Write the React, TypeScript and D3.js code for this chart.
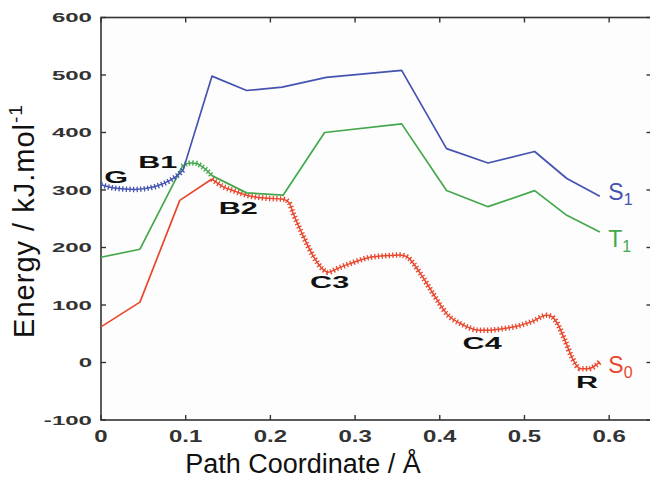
import React from 'react';
import * as d3 from 'd3';

// axis ticks
const xTicks = [0, 0.1, 0.2, 0.3, 0.4, 0.5, 0.6];
const yTicks = [-100, 0, 100, 200, 300, 400, 500, 600];

// S1: IRC part (G -> B1) and straight part
const s1IrcX = [0, 0.017, 0.04, 0.064, 0.083, 0.09, 0.097];
const s1IrcY = [309, 303, 301, 306, 318, 325, 335];
const s1X = [0.097, 0.131, 0.172, 0.214, 0.266, 0.355, 0.408, 0.457, 0.512, 0.55, 0.589];
const s1Y = [335, 498, 473, 479, 496, 508, 372, 347, 367, 320, 289];

// T1
const t1X = [0, 0.046, 0.096];
const t1Y = [183, 197, 341];
const t1IrcX = [0.096, 0.102, 0.107, 0.113, 0.119, 0.125, 0.131];
const t1IrcY = [341, 346, 347, 346, 341, 334, 325];
const t1X2 = [0.131, 0.172, 0.215, 0.264, 0.355, 0.408, 0.457, 0.512, 0.55, 0.589];
const t1Y2 = [325, 295, 291, 400, 415, 299, 271, 299, 256, 227];

// S0
const s0X = [0, 0.046, 0.093, 0.131];
const s0Y = [62, 105, 282, 319];
const s0IrcX = [0.131, 0.144, 0.158, 0.172, 0.192, 0.215, 0.222, 0.227, 0.239, 0.251, 0.262, 0.268, 0.28, 0.294, 0.318, 0.34, 0.353, 0.361, 0.377, 0.392, 0.408, 0.428, 0.447, 0.455, 0.475, 0.491, 0.51, 0.526, 0.532, 0.538, 0.548, 0.556, 0.566, 0.575, 0.589];
const s0IrcY = [319, 306, 298, 291, 286, 284, 278, 259, 219, 184, 162, 157, 164, 172, 183, 186, 187, 184, 155, 120, 85, 65, 56, 56, 59, 63, 72, 82, 80, 70, 38, 9, -11, -11, 1];

// point labels
const stateNames = ['G', 'B1', 'B2', 'C3', 'C4', 'R'];
const stateX = [0.018, 0.067, 0.162, 0.27, 0.45, 0.574];
const stateY = [312, 338, 258, 129, 23, -44];

// curve labels
const curveNames = ['S', 'T', 'S'];
const curveSubs = ['1', '1', '0'];
const curveX = [0.599, 0.599, 0.599];
const curveY = [283, 201, -18];

const blue = '#4453b0';
const green = '#43a84b';
const red = '#e8472e';
const curveColors = [blue, green, red];
const font = '"Liberation Sans", Arial, sans-serif';

const W = 650;
const H = 479;
const left = 101;
const right = 651.5;
const top = 17.5;
const bottom = 420;

const App = () => {
  const x = d3.scaleLinear().domain([0, 0.65]).range([left, right]);
  const y = d3.scaleLinear().domain([-100, 600]).range([bottom, top]);

  const zip = (xs: number[], ys: number[]) => xs.map((v, i) => [v, ys[i]] as [number, number]);
  const straight = d3.line<[number, number]>().x(d => x(d[0])).y(d => y(d[1]));
  const smooth = d3.line<[number, number]>().x(d => x(d[0])).y(d => y(d[1])).curve(d3.curveMonotoneX);

  const solid = (xs: number[], ys: number[], c: string) => (
    <path d={straight(zip(xs, ys)) || ''} fill="none" stroke={c} strokeWidth={1.7} strokeLinejoin="round" />
  );
  const irc = (xs: number[], ys: number[], c: string) => {
    const d = smooth(zip(xs, ys)) || '';
    return (
      <g>
        <path d={d} fill="none" stroke={c} strokeWidth={1.5} />
        <path d={d} fill="none" stroke={c} strokeWidth={5.5} strokeDasharray="1.3 2.3" />
      </g>
    );
  };

  return (
    <svg width={W} height={H} style={{ position: 'absolute', left: 0, top: 0, background: '#fff' }} fontFamily={font}>
      {/* frame */}
      <rect x={left} y={top} width={right - left} height={bottom - top} fill="#fcfdfc" stroke="#333" strokeWidth={1.6} />
      {xTicks.map(t => (
        <g key={'xt' + t}>
          <line x1={x(t)} x2={x(t)} y1={bottom} y2={bottom - 5} stroke="#333" strokeWidth={1.4} />
          <line x1={x(t)} x2={x(t)} y1={top} y2={top + 5} stroke="#333" strokeWidth={1.4} />
          <text transform={`translate(${x(t)},442) scale(1.5,1)`} textAnchor="middle" fontSize={16} fontWeight="bold" fill="#333">{t === 0 ? '0' : d3.format('.1f')(t)}</text>
        </g>
      ))}
      {yTicks.map(t => (
        <g key={'yt' + t}>
          <line x1={left} x2={left + 5} y1={y(t)} y2={y(t)} stroke="#333" strokeWidth={1.4} />
          <line x1={right - 5} x2={right} y1={y(t)} y2={y(t)} stroke="#333" strokeWidth={1.4} />
          <text transform={`translate(92,${y(t) + 4.7}) scale(1.85,1)`} textAnchor="end" fontSize={13} fontWeight="bold" fill="#333">{t}</text>
        </g>
      ))}

      {/* curves */}
      {solid(s0X, s0Y, red)}
      {irc(s0IrcX, s0IrcY, red)}
      {solid(t1X, t1Y, green)}
      {irc(t1IrcX, t1IrcY, green)}
      {solid(t1X2, t1Y2, green)}
      {irc(s1IrcX, s1IrcY, blue)}
      {solid(s1X, s1Y, blue)}

      {/* state labels */}
      {stateNames.map((n, i) => (
        <text key={n} transform={`translate(${x(stateX[i])},${y(stateY[i])}) scale(1.8,1)`} textAnchor="middle" fontSize={17} fontWeight="bold" fill="#111">{n}</text>
      ))}

      {/* curve labels */}
      {curveNames.map((n, i) => (
        <text key={'c' + i} x={x(curveX[i])} y={y(curveY[i])} fontSize={23} fill={curveColors[i]}>
          {n}
          <tspan fontSize={16} dy={5}>{curveSubs[i]}</tspan>
        </text>
      ))}

      {/* axis titles */}
      <text x={303} y={473} textAnchor="middle" fontSize={27} fill="#111">Path Coordinate / Å</text>
      <text transform="translate(34,221) rotate(-90)" textAnchor="middle" fontSize={29} fill="#111" letterSpacing={1}>
        Energy / kJ.mol
        <tspan fontSize={19} dy={-12}>-1</tspan>
      </text>
    </svg>
  );
};

export default App;
